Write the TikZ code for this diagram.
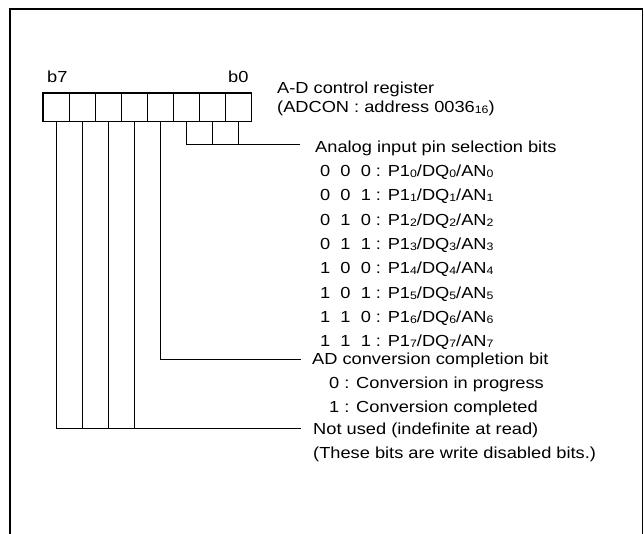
\documentclass[tikz,border=0pt]{standalone}
\usepackage{fontspec}
\setmainfont[FakeStretch=1.14]{Liberation Sans}
\usetikzlibrary{positioning}
\newcommand{\subdig}[1]{\raisebox{-1pt}{\fontsize{10.8}{11}\selectfont #1}}
\tikzset{
  lead/.style={line width=0.8pt},
  frame/.style={line width=1.6pt},
  cell/.style={draw,line width=0.9pt,minimum width=26pt,minimum height=28pt,inner sep=0pt},
  txt/.style={anchor=base west,inner sep=0pt,font=\fontsize{16}{18}\selectfont}
}
\begin{document}
\begin{tikzpicture}[x=1pt,y=-1pt]
  \useasboundingbox (0,0) rectangle (644,534);
  \clip (0,0) rectangle (644,534);
  \draw[frame] (10,9) rectangle (642.5,560);
  % register cells
  \foreach \i in {0,...,7}
    \node[cell] (c\i) at ({238-26*\i},107) {};
  \draw[frame] (c7.north west) rectangle (c0.south east);
  \node[txt] (b7) at (47,82.3) {b7};
  \node[txt] (b0) at (228,82.3) {b0};
  \node[txt] (reg) at (277,93.5) {A-D control register};
  \node[txt] (addr) at (277,113) {(ADCON : address 0036\subdig{16})};
  % leaders
  \coordinate (sel) at (300,144.3);
  \coordinate (cmp) at (300.7,359.3);
  \coordinate (nu) at (300.7,428.7);
  \draw[lead] (c0.south) -- (c0.south |- sel);
  \draw[lead] (c1.south) -- (c1.south |- sel);
  \draw[lead] (c2.south) |- (sel);
  \draw[lead] (c3.south) |- (cmp);
  \foreach \i in {4,5,6}
    \draw[lead] (c\i.south) -- (c\i.south |- nu);
  \draw[lead] (c7.south) |- (nu);
  % texts
  \node[txt] (seltxt) at (315,152.3) {Analog input pin selection bits};
  \foreach \a/\b/\c [count=\k from 0] in {0/0/0,0/0/1,0/1/0,0/1/1,1/0/0,1/0/1,1/1/0,1/1/1}
    \node[txt] (row\k) at (320,{176.7+24.3*\k}) {\a\ \ \b\ \ \c\ : P1\subdig{\k}/DQ\subdig{\k}/AN\subdig{\k}};
  \node[txt] (cmptxt) at (312,364.5) {AD conversion completion bit};
  \node[txt] (cmp0) at (329,388.5) {0 : Conversion in progress};
  \node[txt] (cmp1) at (329,412.5) {1 : Conversion completed};
  \node[txt] (nutxt) at (313,434.5) {Not used (indefinite at read)};
  \node[txt] (nunote) at (313,458.5) {(These bits are write disabled bits.)};
\end{tikzpicture}
\end{document}
